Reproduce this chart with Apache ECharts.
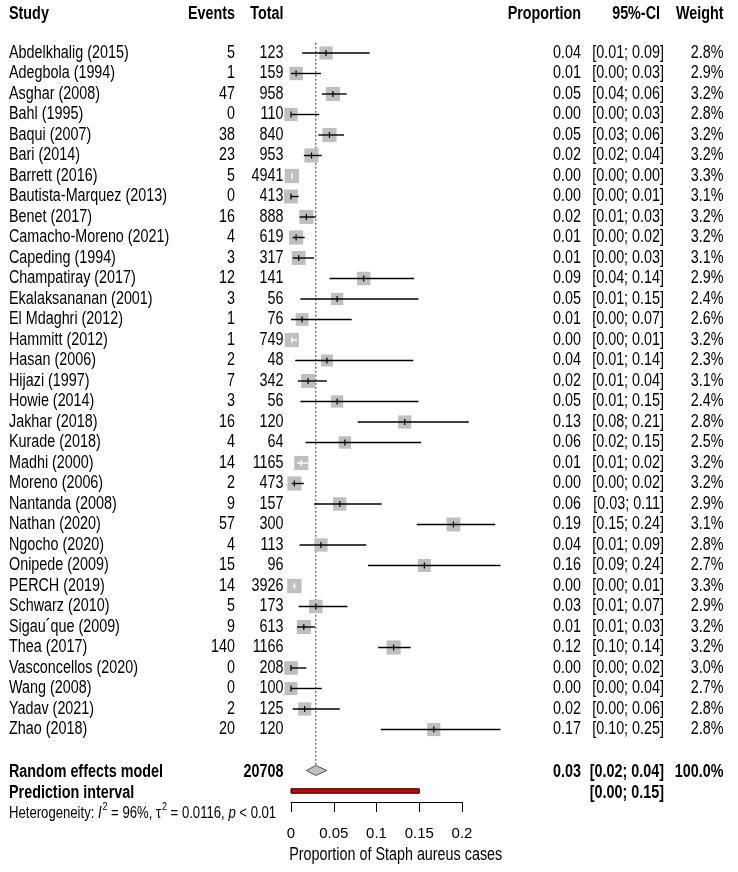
<!DOCTYPE html>
<html><head><meta charset="utf-8">
<script src="https://cdn.jsdelivr.net/npm/echarts@6/dist/echarts.min.js"></script>
<style>html,body{margin:0;padding:0;background:#fff}#c{width:738px;height:872px}</style>
</head><body><div id="c"></div>
<script>
const studies = ['Abdelkhalig (2015)','Adegbola (1994)','Asghar (2008)','Bahl (1995)','Baqui (2007)','Bari (2014)','Barrett (2016)','Bautista-Marquez (2013)','Benet (2017)','Camacho-Moreno (2021)','Capeding (1994)','Champatiray (2017)','Ekalaksananan (2001)','El Mdaghri (2012)','Hammitt (2012)','Hasan (2006)','Hijazi (1997)','Howie (2014)','Jakhar (2018)','Kurade (2018)','Madhi (2000)','Moreno (2006)','Nantanda (2008)','Nathan (2020)','Ngocho (2020)','Onipede (2009)','PERCH (2019)','Schwarz (2010)','Sigau\u00b4que (2009)','Thea (2017)','Vasconcellos (2020)','Wang (2008)','Yadav (2021)','Zhao (2018)'];
const events = [5,1,47,0,38,23,5,0,16,4,3,12,3,1,1,2,7,3,16,4,14,2,9,57,4,15,14,5,9,140,0,0,2,20];
const totals = [123,159,958,110,840,953,4941,413,888,619,317,141,56,76,749,48,342,56,120,64,1165,473,157,300,113,96,3926,173,613,1166,208,100,125,120];
const propLabels = ['0.04','0.01','0.05','0.00','0.05','0.02','0.00','0.00','0.02','0.01','0.01','0.09','0.05','0.01','0.00','0.04','0.02','0.05','0.13','0.06','0.01','0.00','0.06','0.19','0.04','0.16','0.00','0.03','0.01','0.12','0.00','0.00','0.02','0.17'];
const ciLabels = ['[0.01; 0.09]','[0.00; 0.03]','[0.04; 0.06]','[0.00; 0.03]','[0.03; 0.06]','[0.02; 0.04]','[0.00; 0.00]','[0.00; 0.01]','[0.01; 0.03]','[0.00; 0.02]','[0.00; 0.03]','[0.04; 0.14]','[0.01; 0.15]','[0.00; 0.07]','[0.00; 0.01]','[0.01; 0.14]','[0.01; 0.04]','[0.01; 0.15]','[0.08; 0.21]','[0.02; 0.15]','[0.01; 0.02]','[0.00; 0.02]','[0.03; 0.11]','[0.15; 0.24]','[0.01; 0.09]','[0.09; 0.24]','[0.00; 0.01]','[0.01; 0.07]','[0.01; 0.03]','[0.10; 0.14]','[0.00; 0.02]','[0.00; 0.04]','[0.00; 0.06]','[0.10; 0.25]'];
const weights = [2.8,2.9,3.2,2.8,3.2,3.2,3.3,3.1,3.2,3.2,3.1,2.9,2.4,2.6,3.2,2.3,3.1,2.4,2.8,2.5,3.2,3.2,2.9,3.1,2.8,2.7,3.3,2.9,3.2,3.2,3.0,2.7,2.8,2.8];
const props = [0.041,0.006,0.049,0,0.045,0.024,0.001,0,0.018,0.006,0.009,0.085,0.054,0.013,0.001,0.042,0.020,0.054,0.133,0.063,0.012,0.004,0.057,0.190,0.035,0.156,0.004,0.029,0.015,0.120,0,0,0.016,0.167];
const lowers = [0.013,0.000,0.036,0,0.032,0.015,0.0003,0,0.010,0.002,0.002,0.045,0.011,0.000,0.000,0.005,0.008,0.011,0.078,0.017,0.007,0.001,0.027,0.147,0.010,0.090,0.002,0.009,0.007,0.102,0,0,0.002,0.105];
const uppers = [0.092,0.035,0.065,0.033,0.062,0.036,0.002,0.009,0.029,0.016,0.027,0.144,0.149,0.071,0.007,0.143,0.042,0.149,0.208,0.152,0.020,0.015,0.106,0.239,0.088,0.245,0.006,0.066,0.028,0.140,0.018,0.036,0.057,0.245];
const pooled = [0.029, 0.018, 0.042];   // estimate, lower, upper
const predInterval = [0, 0.15];
const tickLabels = ['0','0.05','0.1','0.15','0.2'];
const totalN = '20708';
const pooledLabels = ['0.03','[0.02; 0.04]','100.0%'];
const predLabel = '[0.00; 0.15]';
const xTitle = 'Proportion of Staph aureus cases';

// layout
const FONT = '"Liberation Sans", Arial, sans-serif';
const FS = 17.5, SX = 0.82;
const COL = {study:9, events:235, total:283.5, prop:581, ci:664, ciHead:660, weight:723.5};
const ROW_HEAD = -1.9, ROW_RE = 35, ROW_PI = 36, ROW_HET = 37.0, ROW_TITLE = 39.12;

function txt(x, y, text, align, bold, size){
  return {type:'text', x:x, y:y, scaleX:SX, style:{text:text, fontSize:size||FS, fontFamily:FONT,
    fontWeight: bold?'bold':'normal', fill:'#000', align:align, verticalAlign:'middle'}};
}

const chart = echarts.init(document.getElementById('c'), null, {renderer:'canvas'});
const studyData = studies.map((s,i)=>[i, props[i], lowers[i], uppers[i], weights[i]]);

chart.setOption({
  animation:false,
  backgroundColor:'#fff',
  grid:{left:291, width:171, top:12, bottom:70, containLabel:false},
  xAxis:{type:'value', position:'bottom', min:0, max:0.2, interval:0.05,
    axisLine:{show:true, onZero:false, lineStyle:{color:'#000', width:1}},
    axisTick:{show:true, inside:false, length:10, lineStyle:{color:'#000', width:1}},
    axisLabel:{color:'#000', fontFamily:FONT, fontSize:15, margin:24,
      formatter:(v)=>{const k=Math.round(v/0.05); return tickLabels[k]!==undefined?tickLabels[k]:'';}},
    splitLine:{show:false}},
  yAxis:{type:'value', inverse:true, min:-2, max:36.537, show:false},
  series:[
    { // reference dotted line
      type:'custom', data:[[pooled[0]]], encode:{x:0},
      renderItem:(params, api)=>{
        const a=api.coord([api.value(0), -0.5]);
        const b=api.coord([api.value(0), ROW_RE]);
        return {type:'line', shape:{x1:a[0],y1:a[1],x2:b[0],y2:b[1]-5},
          style:{stroke:'#333', lineWidth:1, lineDash:[2,2]}};
      }
    },
    { // studies
      type:'custom', data:studyData, encode:{x:[1,2,3], y:0},
      renderItem:(params, api)=>{
        const row=api.value(0);
        const c=api.coord([api.value(1), row]);
        const l=api.coord([api.value(2), row]);
        const u=api.coord([api.value(3), row]);
        const s=7.9*Math.sqrt(api.value(4));
        const inside = l[0] >= c[0]-s/2 && u[0] <= c[0]+s/2;
        const lc = inside ? '#fff' : '#000';
        return {type:'group', children:[
          {type:'rect', shape:{x:c[0]-s/2, y:c[1]-s/2, width:s, height:s}, style:{fill:'#bfbfbf'}},
          {type:'line', shape:{x1:l[0], y1:c[1], x2:u[0], y2:c[1]}, style:{stroke:lc, lineWidth:1.4}},
          {type:'line', shape:{x1:c[0], y1:c[1]-3, x2:c[0], y2:c[1]+3}, style:{stroke:lc, lineWidth:1.2}}
        ]};
      }
    },
    { // pooled diamond + prediction interval
      type:'custom', data:[[ROW_RE, pooled[0], pooled[1], pooled[2]]], encode:{x:[1,2,3], y:0},
      renderItem:(params, api)=>{
        const row=api.value(0);
        const c=api.coord([api.value(1), row]);
        const l=api.coord([api.value(2), row]);
        const u=api.coord([api.value(3), row]);
        const p0=api.coord([predInterval[0], ROW_PI]);
        const p1=api.coord([predInterval[1], ROW_PI]);
        const h=5;
        return {type:'group', children:[
          {type:'polygon', shape:{points:[[l[0],c[1]],[c[0],c[1]-h],[u[0],c[1]],[c[0],c[1]+h]]},
            style:{fill:'#c0c0c0', stroke:'#555', lineWidth:1}},
          {type:'rect', shape:{x:p0[0], y:p0[1]-2.2, width:p1[0]-p0[0], height:4.4},
            style:{fill:'#dd0000', stroke:'#000', lineWidth:1}}
        ]};
      }
    },
    { // study text columns
      type:'custom', data:studyData, encode:{y:0},
      renderItem:(params, api)=>{
        const i=api.value(0);
        const y=api.coord([0, i])[1];
        return {type:'group', children:[
          txt(COL.study, y, studies[i], 'left'),
          txt(COL.events, y, String(events[i]), 'right'),
          txt(COL.total, y, String(totals[i]), 'right'),
          txt(COL.prop, y, propLabels[i], 'right'),
          txt(COL.ci, y, ciLabels[i], 'right'),
          txt(COL.weight, y, weights[i].toFixed(1)+'%', 'right')
        ]};
      }
    },
    { // headers, summary rows, heterogeneity, axis title
      type:'custom', data:[[0]], encode:{y:0},
      renderItem:(params, api)=>{
        const yH=api.coord([0, ROW_HEAD])[1];
        const yR=api.coord([0, ROW_RE])[1]+2;
        const yP=api.coord([0, ROW_PI])[1]+2;
        const yHet=api.coord([0, ROW_HET])[1];
        const tPos=api.coord([0.1225, ROW_TITLE]);
        const het = {type:'text', x:COL.study, y:yHet, scaleX:SX, style:{
          text:'{n|Heterogeneity: }{i|I}{s|2}{n| = 96%, \u03c4}{s|2}{n| = 0.0116, }{i|p}{n| < 0.01}',
          align:'left', verticalAlign:'middle', fill:'#000',
          rich:{
            n:{fontFamily:FONT, fontSize:16, fill:'#000', lineHeight:20, verticalAlign:'bottom'},
            i:{fontFamily:FONT, fontSize:16, fontStyle:'italic', fill:'#000', lineHeight:20, verticalAlign:'bottom'},
            s:{fontFamily:FONT, fontSize:11, fill:'#000', lineHeight:20, verticalAlign:'top', padding:[0,0,0,1]}
          }}};
        return {type:'group', children:[
          txt(COL.study, yH, 'Study', 'left', true),
          txt(COL.events, yH, 'Events', 'right', true),
          txt(COL.total, yH, 'Total', 'right', true),
          txt(COL.prop, yH, 'Proportion', 'right', true),
          txt(COL.ciHead, yH, '95%-CI', 'right', true),
          txt(COL.weight, yH, 'Weight', 'right', true),
          txt(COL.study, yR, 'Random effects model', 'left', true),
          txt(COL.total, yR, totalN, 'right', true),
          txt(COL.prop, yR, pooledLabels[0], 'right', true),
          txt(COL.ci, yR, pooledLabels[1], 'right', true),
          txt(COL.weight, yR, pooledLabels[2], 'right', true),
          txt(COL.study, yP, 'Prediction interval', 'left', true),
          txt(COL.ci, yP, predLabel, 'right', true),
          het,
          txt(tPos[0], tPos[1], xTitle, 'center')
        ]};
      }
    }
  ]
});
</script></body></html>
